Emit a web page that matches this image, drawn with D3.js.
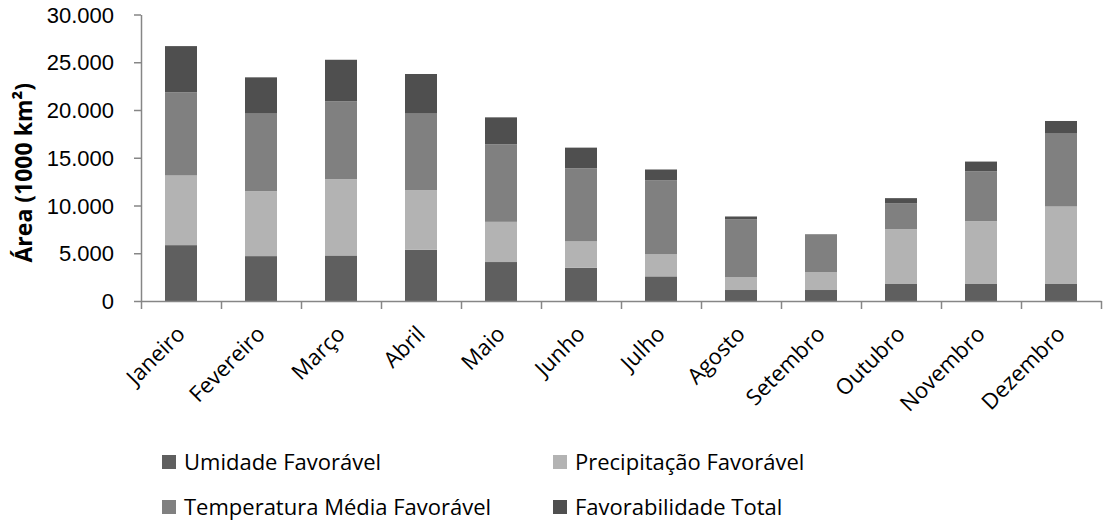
<!DOCTYPE html>
<html lang="pt-BR">
<head>
<meta charset="utf-8">
<script src="https://cdn.jsdelivr.net/npm/d3@7"></script>
<style>
  html, body { margin: 0; padding: 0; background: #fff; }
  svg { display: block; font-family: "Open Sans", "Noto Sans", sans-serif; }
</style>
</head>
<body>
<svg id="chart" width="1107" height="522"></svg>
<script>
// Área favorável por mês (1000 km²), empilhada por critério
const months = ["Janeiro", "Fevereiro", "Março", "Abril", "Maio", "Junho",
                "Julho", "Agosto", "Setembro", "Outubro", "Novembro", "Dezembro"];
const umidade        = [5850, 4700, 4770, 5370, 4080, 3480, 2580, 1150, 1150, 1780, 1780, 1780];
const precipitacao   = [7290, 6800, 7980, 6240, 4210, 2760, 2340, 1360, 1880, 5750, 6580, 8110];
const temperatura    = [8710, 8120, 8150, 8010, 8120, 7660, 7730, 6060, 3940, 2720, 5230, 7700];
const favorabilidade = [4840, 3800, 4360, 4150, 2820, 2160, 1120,  280,   30,  520, 1010, 1260];
const seriesNames = ["Umidade Favorável", "Precipitação Favorável",
                     "Temperatura Média Favorável", "Favorabilidade Total"];
const seriesColors = ["#5f5f5f", "#b3b3b3", "#808080", "#4f4f4f"];
const yTicks = [0, 5000, 10000, 15000, 20000, 25000, 30000];

const svg = d3.select("#chart");
const plot = { left: 141, right: 1101, top: 14.5, bottom: 301 };

const rows = months.map((m, i) => ({
  month: m,
  s0: umidade[i], s1: precipitacao[i], s2: temperatura[i], s3: favorabilidade[i]
}));
const keys = ["s0", "s1", "s2", "s3"];
const stacked = d3.stack().keys(keys)(rows);

const x = d3.scaleBand().domain(months).range([plot.left, plot.right])
  .paddingInner(0.6).paddingOuter(0.3);
const xEdges = d3.scaleLinear().domain([0, months.length]).range([plot.left, plot.right]);
const y = d3.scaleLinear().domain([0, 30000]).range([plot.bottom, plot.top]);

const ptBR = d3.formatLocale({ decimal: ",", thousands: ".", grouping: [3], currency: ["R$", ""] });
const fmt = ptBR.format(",d");

// bars
svg.append("g").selectAll("g")
  .data(stacked)
  .join("g")
  .attr("fill", (d, i) => seriesColors[i])
  .selectAll("rect")
  .data(d => d)
  .join("rect")
  .attr("x", d => x(d.data.month))
  .attr("width", x.bandwidth())
  .attr("y", d => y(d[1]))
  .attr("height", d => y(d[0]) - y(d[1]));

const axisColor = "#868686";

// y axis
const gy = svg.append("g")
  .attr("transform", `translate(${plot.left},0)`)
  .call(d3.axisLeft(y).tickValues(yTicks).tickFormat(fmt).tickSize(7).tickPadding(20).tickSizeOuter(0));
gy.select(".domain").attr("stroke", axisColor).attr("stroke-width", 1.5);
gy.selectAll(".tick line").attr("stroke", axisColor).attr("stroke-width", 1.5);
gy.selectAll(".tick text").attr("fill", "#000").style("font-size", "22px")
  .attr("dy", "0.35em");

// x axis: tick marks on category boundaries
const gx = svg.append("g")
  .attr("transform", `translate(0,${plot.bottom})`)
  .call(d3.axisBottom(xEdges).ticks(months.length).tickFormat("").tickSize(8).tickSizeOuter(0));
gx.select(".domain").attr("stroke", axisColor).attr("stroke-width", 1.5);
gx.selectAll(".tick line").attr("stroke", axisColor).attr("stroke-width", 1.5);

// month labels rotated
svg.append("g").selectAll("text")
  .data(months)
  .join("text")
  .attr("transform", m => `translate(${x(m) + x.bandwidth() / 2},${plot.bottom + 29}) rotate(-45)`)
  .attr("text-anchor", "end")
  .attr("dy", "0.35em")
  .style("font-size", "22px")
  .attr("fill", "#000")
  .text(m => m);

// y title
svg.append("text")
  .attr("transform", `translate(24,${(plot.bottom + plot.top) / 2 + 15}) rotate(-90)`)
  .attr("text-anchor", "middle")
  .attr("dy", "0.35em")
  .style("font-size", "23px")
  .style("font-weight", "bold")
  .attr("fill", "#000")
  .text("Área (1000 km²)");

// legend, two columns
const legendPos = [[162, 462], [553, 462], [162, 507], [553, 507]];
const lg = svg.append("g").selectAll("g")
  .data(seriesNames)
  .join("g")
  .attr("transform", (d, i) => `translate(${legendPos[i][0]},${legendPos[i][1]})`);
lg.append("rect")
  .attr("x", 0).attr("y", -7).attr("width", 14).attr("height", 14)
  .attr("fill", (d, i) => seriesColors[i]);
lg.append("text")
  .attr("x", 22).attr("dy", "0.35em")
  .style("font-size", "22px")
  .attr("fill", "#000")
  .text(d => d);
</script>
</body>
</html>
